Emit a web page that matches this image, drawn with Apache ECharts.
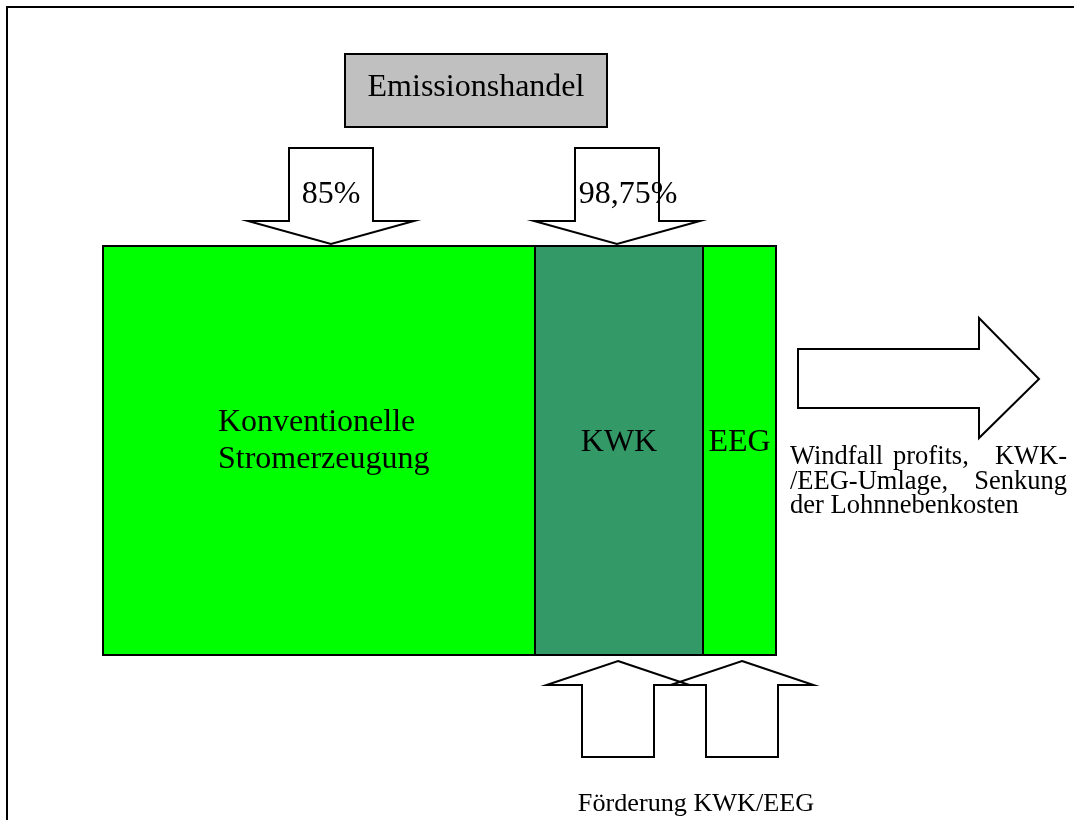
<!DOCTYPE html>
<html>
<head>
<meta charset="utf-8">
<script src="https://cdn.jsdelivr.net/npm/echarts@6/dist/echarts.min.js"></script>
<style>html,body{margin:0;padding:0;background:#fff}#c{width:1074px;height:820px}</style>
</head>
<body>
<div id="c"></div>
<script>
// ---- data ----
const segmentLabels = ['Konventionelle\nStromerzeugung', 'KWK', 'EEG'];
const segmentWidths = [432, 168, 73];
const segmentColors = ['#00FF00', '#339966', '#00FF00'];
const emissionLabel = 'Emissionshandel';
const emissionShares = ['85%', '98,75%'];
const emissionArrowCenters = [331, 617];
const supportArrowCenters = [618, 742];
const supportLabel = 'Förderung KWK/EEG';
const effectLines = [['Windfall', 'profits,', 'KWK-'], ['/EEG-Umlage,', 'Senkung'], ['der Lohnnebenkosten']];

// ---- layout (diagram units = pixels) ----
const barLeft = 103, barTop = 246, barBottom = 655;
const FONT = '"Liberation Serif", "Times New Roman", serif';

const segStarts = [];
segmentWidths.reduce((acc, w) => { segStarts.push(acc); return acc + w; }, barLeft);

const chart = echarts.init(document.getElementById('c'), null, {renderer: 'canvas'});

function poly(api, pts, fill) {
  return {
    type: 'polygon',
    shape: {points: pts.map(p => api.coord(p))},
    style: {fill: fill || 'none', stroke: '#000', lineWidth: 2, lineJoin: 'miter'}
  };
}
function txt(api, s, x, y, size, align, lh) {
  const p = api.coord([x, y]);
  return {
    type: 'text',
    style: {text: s, x: p[0], y: p[1], font: size + 'px ' + FONT, fill: '#000',
            align: align || 'center', verticalAlign: 'middle', lineHeight: lh || size * 1.15}
  };
}

const option = {
  animation: false,
  grid: {left: 0, right: 0, top: 0, bottom: 0},
  xAxis: {type: 'value', min: 0, max: 1074, show: false},
  yAxis: {type: 'value', min: 0, max: 820, inverse: true, show: false},
  series: [
    // outer frame
    {
      type: 'custom', coordinateSystem: 'cartesian2d', data: [[0, 0]], silent: true, clip: false,
      renderItem: (params, api) => poly(api, [[7, 7], [1090, 7], [1090, 840], [7, 840]], 'none')
    },
    // stacked segments
    {
      type: 'custom', coordinateSystem: 'cartesian2d', silent: true, clip: false,
      data: segmentWidths.map((w, i) => [segStarts[i], w, i]),
      renderItem: (params, api) => {
        const x0 = api.value(0), w = api.value(1), i = api.value(2);
        const children = [poly(api, [[x0, barTop], [x0 + w, barTop], [x0 + w, barBottom], [x0, barBottom]], segmentColors[i])];
        if (i === 0) children.push(txt(api, segmentLabels[i], 218, 441, 32, 'left', 37));
        else children.push(txt(api, segmentLabels[i], x0 + w / 2, 443, 32, 'center'));
        return {type: 'group', children};
      }
    },
    // emission trading box
    {
      type: 'custom', coordinateSystem: 'cartesian2d', data: [[476, 90]], silent: true, clip: false,
      renderItem: (params, api) => ({type: 'group', children: [
        poly(api, [[345, 54], [607, 54], [607, 127], [345, 127]], '#C0C0C0'),
        txt(api, emissionLabel, 476, 87.5, 32, 'center')
      ]})
    },
    // down arrows
    {
      type: 'custom', coordinateSystem: 'cartesian2d', silent: true, clip: false,
      data: emissionArrowCenters.map((c, i) => [c, i]),
      renderItem: (params, api) => {
        const c = api.value(0), i = api.value(1);
        const sw = 42, hw = 83, top = 148, base = 221, tip = 244;
        return {type: 'group', children: [
          poly(api, [[c - sw, top], [c + sw, top], [c + sw, base], [c + hw, base], [c, tip], [c - hw, base], [c - sw, base]], 'none'),
          txt(api, emissionShares[i], c + (i === 1 ? 11 : 0), 195, 32, 'center')
        ]};
      }
    },
    // up arrows
    {
      type: 'custom', coordinateSystem: 'cartesian2d', silent: true, clip: false,
      data: supportArrowCenters.map((c, i) => [c, i]),
      renderItem: (params, api) => {
        const c = api.value(0);
        const sw = 36, hw = 71.5, tip = 661, base = 685, bottom = 757;
        return poly(api, [[c, tip], [c + hw, base], [c + sw, base], [c + sw, bottom], [c - sw, bottom], [c - sw, base], [c - hw, base]], 'none');
      }
    },
    // right arrow + effects text
    {
      type: 'custom', coordinateSystem: 'cartesian2d', data: [[798, 379]], silent: true, clip: false,
      renderItem: (params, api) => {
        const children = [poly(api, [[798, 349], [979, 349], [979, 318], [1039, 379], [979, 438], [979, 408], [798, 408]], 'none')];
        const mids = [457.5, 482, 506.5];
        const fs = 26.5;
        effectLines.forEach((words, li) => {
          if (words.length === 1) children.push(txt(api, words[0], 790, mids[li], fs, 'left'));
          else {
            children.push(txt(api, words[0], 790, mids[li], fs, 'left'));
            children.push(txt(api, words[words.length - 1], 1067, mids[li], fs, 'right'));
            if (words.length === 3) children.push(txt(api, words[1], 893, mids[li], fs, 'left'));
          }
        });
        children.push(txt(api, supportLabel, 696, 804.5, 26.2, 'center'));
        return {type: 'group', children};
      }
    }
  ]
};
chart.setOption(option);
</script>
</body>
</html>
